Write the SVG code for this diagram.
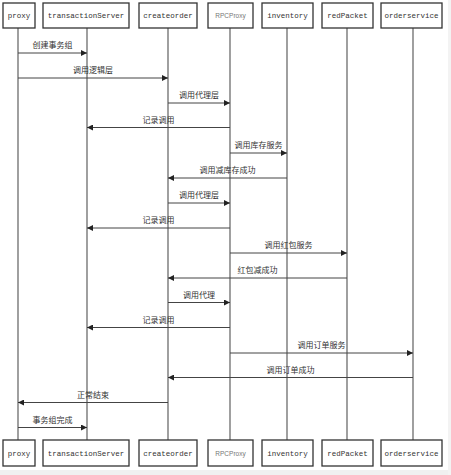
<svg xmlns="http://www.w3.org/2000/svg" width="451" height="475" viewBox="0 0 451 475">
<style>
.box{fill:#fff;stroke:#333;stroke-width:1.3}
.bl{font-family:"Liberation Mono","DejaVu Sans Mono",monospace;font-size:7.5px;fill:#333;text-anchor:middle}
.bls{font-family:"Liberation Sans",Arial,sans-serif;font-size:6.5px;fill:#777;text-anchor:middle}
.life{stroke:#777;stroke-width:1.4}
.msg{stroke:#444;stroke-width:1;fill:none;marker-end:url(#ah)}
.ml{font-family:"Noto Sans CJK SC","Liberation Sans",sans-serif;font-size:8px;fill:#333;text-anchor:middle}
</style>
<defs>
<marker id="ah" viewBox="0 0 10 10" refX="10" refY="5" markerWidth="6" markerHeight="6" markerUnits="userSpaceOnUse" orient="auto">
<path d="M0,0 L10,5 L0,10 z" fill="#222"/>
</marker>
</defs>
<rect width="451" height="475" fill="#fff"/>
<rect x="0" y="470" width="451" height="5" fill="#f0f0f0"/>
<rect x="448" y="0" width="3" height="475" fill="#f3f3f3"/>
<g id="lifelines">
<line class="life" x1="18" y1="28" x2="18" y2="440"/>
<line class="life" x1="87" y1="28" x2="87" y2="440"/>
<line class="life" x1="168" y1="28" x2="168" y2="440"/>
<line class="life" x1="230" y1="28" x2="230" y2="440"/>
<line class="life" x1="287" y1="28" x2="287" y2="440"/>
<line class="life" x1="347" y1="28" x2="347" y2="440"/>
<line class="life" x1="413" y1="28" x2="413" y2="440"/>
</g>
<g id="proxy">
<rect class="box" x="3" y="3" width="32" height="25"/><text class="bl" x="19" y="18">proxy</text>
<rect class="box" x="3" y="440" width="32" height="26"/><text class="bl" x="19" y="456">proxy</text>
</g>
<g id="transactionServer">
<rect class="box" x="43" y="3" width="86" height="25"/><text class="bl" x="86" y="18">transactionServer</text>
<rect class="box" x="43" y="440" width="86" height="26"/><text class="bl" x="86" y="456">transactionServer</text>
</g>
<g id="createorder">
<rect class="box" x="139" y="3" width="58" height="25"/><text class="bl" x="168" y="18">createorder</text>
<rect class="box" x="139" y="440" width="58" height="26"/><text class="bl" x="168" y="456">createorder</text>
</g>
<g id="RPCProxy">
<rect class="box" x="208" y="3" width="45" height="25"/><text class="bls" x="230.5" y="17.5">RPCProxy</text>
<rect class="box" x="208" y="440" width="45" height="26"/><text class="bls" x="230.5" y="455.5">RPCProxy</text>
</g>
<g id="inventory">
<rect class="box" x="262" y="3" width="51" height="25"/><text class="bl" x="287.5" y="18">inventory</text>
<rect class="box" x="262" y="440" width="51" height="26"/><text class="bl" x="287.5" y="456">inventory</text>
</g>
<g id="redPacket">
<rect class="box" x="322" y="3" width="51" height="25"/><text class="bl" x="347.5" y="18">redPacket</text>
<rect class="box" x="322" y="440" width="51" height="26"/><text class="bl" x="347.5" y="456">redPacket</text>
</g>
<g id="orderservice">
<rect class="box" x="381" y="3" width="61" height="25"/><text class="bl" x="411.5" y="18">orderservice</text>
<rect class="box" x="381" y="440" width="61" height="26"/><text class="bl" x="411.5" y="456">orderservice</text>
</g>
<g id="connectors">
<line class="msg" x1="18" y1="53" x2="87" y2="53"/><text class="ml" x="52.5" y="48">创建事务组</text>
<line class="msg" x1="18" y1="78" x2="168" y2="78"/><text class="ml" x="93" y="73">调用逻辑层</text>
<line class="msg" x1="168" y1="103" x2="230" y2="103"/><text class="ml" x="199" y="98">调用代理层</text>
<line class="msg" x1="230" y1="127.5" x2="87" y2="127.5"/><text class="ml" x="158.5" y="122.5">记录调用</text>
<line class="msg" x1="230" y1="153" x2="287" y2="153"/><text class="ml" x="258.5" y="148">调用库存服务</text>
<line class="msg" x1="287" y1="178" x2="168" y2="178"/><text class="ml" x="227.5" y="173">调用减库存成功</text>
<line class="msg" x1="168" y1="203" x2="230" y2="203"/><text class="ml" x="199" y="198">调用代理层</text>
<line class="msg" x1="230" y1="228" x2="87" y2="228"/><text class="ml" x="158.5" y="223">记录调用</text>
<line class="msg" x1="230" y1="253" x2="347" y2="253"/><text class="ml" x="288.5" y="248">调用红包服务</text>
<line class="msg" x1="347" y1="278" x2="168" y2="278"/><text class="ml" x="257.5" y="273">红包减成功</text>
<line class="msg" x1="168" y1="302.5" x2="230" y2="302.5"/><text class="ml" x="199" y="297.5">调用代理</text>
<line class="msg" x1="230" y1="327.5" x2="87" y2="327.5"/><text class="ml" x="158.5" y="322.5">记录调用</text>
<line class="msg" x1="230" y1="353" x2="413" y2="353"/><text class="ml" x="321.5" y="348">调用订单服务</text>
<line class="msg" x1="413" y1="377.5" x2="168" y2="377.5"/><text class="ml" x="290.5" y="372.5">调用订单成功</text>
<line class="msg" x1="168" y1="402.5" x2="18" y2="402.5"/><text class="ml" x="93" y="397.5">正常结束</text>
<line class="msg" x1="18" y1="427.5" x2="87" y2="427.5"/><text class="ml" x="52.5" y="422.5">事务组完成</text>
</g>
</svg>
